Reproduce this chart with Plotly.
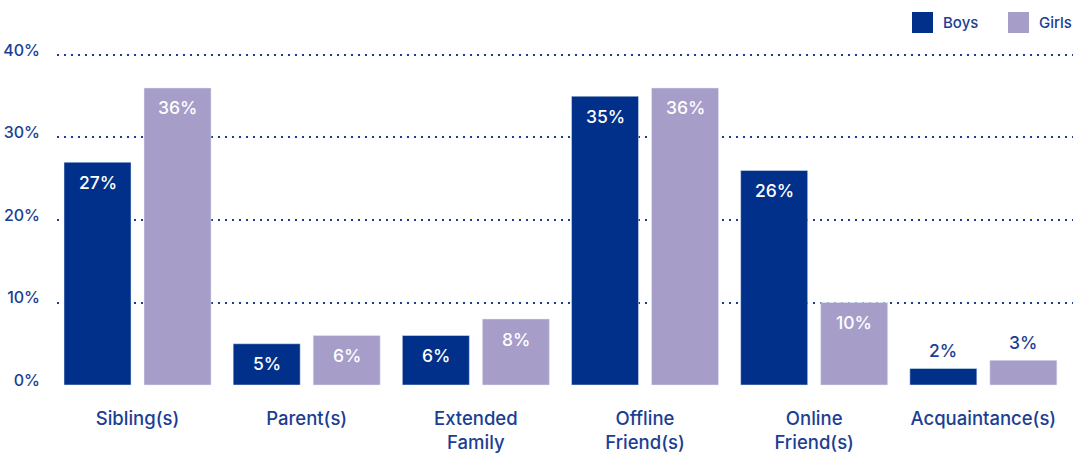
import plotly.graph_objects as go

categories = ["Sibling(s)", "Parent(s)", "Extended<br>Family", "Offline<br>Friend(s)",
              "Online<br>Friend(s)", "Acquaintance(s)"]
boys = [27, 5, 6, 35, 26, 2]
girls = [36, 6, 8, 36, 10, 3]
y_ticks = [0, 10, 20, 30, 40]
y_tick_labels = ["0%", "10%", "20%", "30%", "40%"]

BOYS_COLOR = "#00308A"
GIRLS_COLOR = "#A69DC9"
TEXT_COLOR = "#1B3E94"
FONT = "Inter"

# plot-area geometry (pixels)
PLOT_L, PLOT_W = 57, 1016
PLOT_T, PLOT_H = 53, 333
Y_RANGE = [-0.12, 40.24]


def px_to_paper_y(py):
    # value axis bottom at PLOT_T + PLOT_H
    return (PLOT_T + PLOT_H - py) / PLOT_H


fig = go.Figure()
fig.add_trace(go.Bar(name="Boys", x=categories, y=boys, marker_color=BOYS_COLOR,
                     showlegend=False))
fig.add_trace(go.Bar(name="Girls", x=categories, y=girls, marker_color=GIRLS_COLOR,
                     showlegend=False))

# value labels: inside near the top for taller bars, above for short ones
INSIDE_MIN = 4
annotations = []
for series, shift in ((boys, -40), (girls, 40)):
    for cat, val in zip(categories, series):
        inside = val >= INSIDE_MIN
        annotations.append(dict(
            x=cat, y=val, xref="x", yref="y", xshift=shift,
            yshift=-20 if inside else 18,
            text=f"{val}%", showarrow=False, yanchor="middle",
            font=dict(family=FONT, size=17.5, weight=500,
                      color="#FFFFFF" if inside else TEXT_COLOR),
        ))

# legend drawn as swatches + labels along the top right
legend_items = [("Boys", BOYS_COLOR, 912), ("Girls", GIRLS_COLOR, 1008)]
shapes = []
for label, color, x0 in legend_items:
    shapes.append(dict(type="rect", xref="paper", yref="paper",
                       x0=(x0 - PLOT_L) / PLOT_W, x1=(x0 + 21 - PLOT_L) / PLOT_W,
                       y0=px_to_paper_y(33), y1=px_to_paper_y(12),
                       line=dict(width=0), fillcolor=color))
    annotations.append(dict(xref="paper", yref="paper",
                            x=(x0 + 29 - PLOT_L) / PLOT_W, y=px_to_paper_y(22.5),
                            xanchor="left", yanchor="middle", showarrow=False,
                            text=label,
                            font=dict(family=FONT, size=15, weight=500, color=TEXT_COLOR)))

fig.update_layout(
    barmode="group",
    bargap=0.054,
    bargroupgap=0.1625,
    width=1073, height=455,
    margin=dict(l=PLOT_L, r=1073 - PLOT_L - PLOT_W, t=PLOT_T, b=455 - PLOT_T - PLOT_H),
    paper_bgcolor="white", plot_bgcolor="white",
    font=dict(family=FONT, color=TEXT_COLOR),
    annotations=annotations,
    shapes=shapes,
    xaxis=dict(range=[-0.476, 5.53], showgrid=False, showline=False, zeroline=False,
               automargin=False,
               ticks="", tickfont=dict(size=18.5, weight=500, color=TEXT_COLOR),
               ticklabelstandoff=19),
    yaxis=dict(range=Y_RANGE, tickvals=y_ticks, ticktext=y_tick_labels,
               automargin=False,
               showgrid=True, gridcolor="#1B3E94", gridwidth=2, griddash="2px,5px",
               zeroline=False, showline=False, ticks="",
               tickfont=dict(size=16, weight=500, color=TEXT_COLOR),
               ticklabelstandoff=16, ticklabelshift=-5),
)

fig.write_html("out.html")
